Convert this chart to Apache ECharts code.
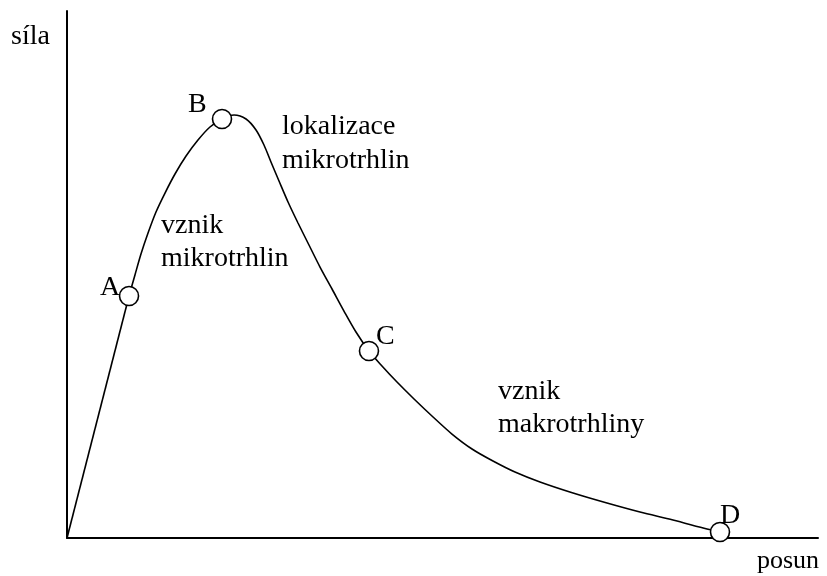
<!DOCTYPE html>
<html>
<head>
<meta charset="utf-8">
<script src="https://cdn.jsdelivr.net/npm/echarts@6/dist/echarts.min.js"></script>
<style>
  html, body { margin: 0; padding: 0; background: #fff; }
  #chart { width: 827px; height: 576px; }
</style>
</head>
<body>
<div id="chart"></div>
<script>
// Force–displacement curve (síla vs. posun), arbitrary units 0–100
const posun = [0, 8.26, 9.05, 9.85, 10.79, 11.85, 13.05, 14.38, 15.85, 17.44, 19.04, 20.64,
  22.24, 23.84, 25.17, 26.23, 27.16, 28.23, 29.43, 30.76, 32.22, 33.69, 35.29, 36.88, 38.48,
  40.21, 41.94, 43.94, 46.21, 48.74, 51.26, 53.93, 56.72, 59.65, 62.98, 67.38, 71.90, 76.30,
  80.69, 85.22, 86.95];
const sila = [0, 45.92, 49.91, 53.89, 57.87, 61.86, 65.46, 69.07, 72.49, 75.52, 77.99, 79.51,
  80.27, 79.51, 77.42, 74.57, 71.35, 67.74, 63.76, 59.77, 55.60, 51.42, 47.25, 43.07, 39.09,
  35.48, 32.64, 29.60, 26.38, 22.96, 19.73, 16.89, 14.61, 12.52, 10.63, 8.54, 6.64, 4.93,
  3.42, 1.71, 1.14];
// The loading branch up to the first marked point is linear
const linearEnd = 1;

// Marked stages on the curve
const pointNames = ['A', 'B', 'C', 'D'];
const pointPosun = [8.26, 20.64, 40.21, 86.95];
const pointSila = [45.92, 79.51, 35.48, 1.14];

// Stage descriptions (one entry per text line)
const stageLines = ['vznik', 'mikrotrhlin', 'lokalizace', 'mikrotrhlin', 'vznik', 'makrotrhliny'];
const axisNames = ['posun', 'síla'];

const FONT = 'Liberation Serif';

const chart = echarts.init(document.getElementById('chart'), null, { renderer: 'canvas' });

const axisCommon = {
  type: 'value',
  min: 0,
  max: 100,
  axisLine: { show: true, onZero: false, lineStyle: { color: '#000', width: 2 } },
  axisTick: { show: false },
  axisLabel: { show: false },
  splitLine: { show: false }
};

const pairs = posun.map((x, i) => [x, sila[i]]);
const lineStyle = { color: '#000', width: 1.6 };

chart.setOption({
  animation: false,
  backgroundColor: '#fff',
  grid: { left: 67, right: 9, top: 11, bottom: 38 },
  xAxis: axisCommon,
  yAxis: axisCommon,
  series: [
    {
      type: 'line',
      data: pairs.slice(0, linearEnd + 1),
      smooth: false,
      showSymbol: false,
      lineStyle: lineStyle,
      z: 2
    },
    {
      type: 'line',
      data: pairs.slice(linearEnd),
      smooth: 0.3,
      smoothMonotone: 'none',
      showSymbol: false,
      lineStyle: lineStyle,
      z: 2
    },
    {
      type: 'scatter',
      data: pointPosun.map((x, i) => [x, pointSila[i]]),
      symbol: 'circle',
      symbolSize: 19,
      itemStyle: { color: '#fff', borderColor: '#000', borderWidth: 1.6, opacity: 1 },
      emphasis: { disabled: true },
      z: 3
    }
  ]
});

// Text placed by its left edge and baseline, in pixels
function textEl(str, left, baseline, size) {
  return {
    type: 'text',
    x: left,
    y: baseline - size * 0.24,
    silent: true,
    z: 10,
    style: {
      text: str,
      fontFamily: FONT,
      fontSize: size,
      fill: '#000',
      align: 'left',
      verticalAlign: 'middle'
    }
  };
}

const letterOffsets = [[-29, -2], [-34, -8], [7, -8], [0, -10]];
const graphics = [];
pointNames.forEach((n, i) => {
  const p = chart.convertToPixel({ seriesIndex: 2 }, [pointPosun[i], pointSila[i]]);
  graphics.push(textEl(n, p[0] + letterOffsets[i][0], p[1] + letterOffsets[i][1], 28));
});

const stagePos = [[161, 232], [161, 265], [282, 133], [282, 167], [498, 398], [498, 431]];
stageLines.forEach((t, i) => {
  graphics.push(textEl(t, stagePos[i][0], stagePos[i][1], 28));
});

graphics.push(textEl(axisNames[0], 757, 567, 26));
graphics.push(textEl(axisNames[1], 11, 43, 28));

chart.setOption({ graphic: graphics });
</script>
</body>
</html>
